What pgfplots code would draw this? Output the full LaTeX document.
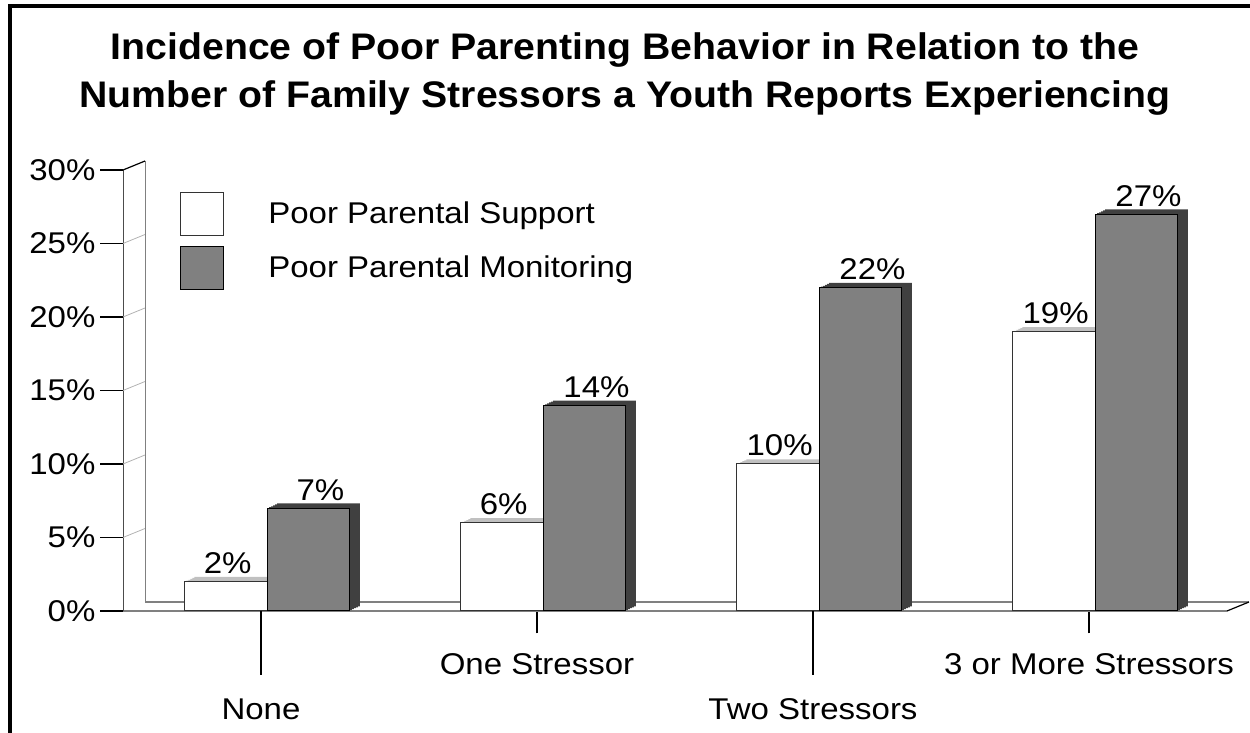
\documentclass[border=0pt]{standalone}
\usepackage{fontspec}
\setmainfont{Liberation Sans}
\newfontfamily\chartfont[FakeStretch=1.1]{Liberation Sans}
\newfontfamily\titlefont[FakeStretch=1.06]{Liberation Sans}
\usepackage{pgfplots}
\usepackage{pgfplotstable}
\pgfplotsset{compat=1.18}

\definecolor{bargray}{HTML}{808080}
\definecolor{sidegray}{HTML}{404040}
\definecolor{topwhite}{HTML}{C0C0C0}

\pgfplotstableread{
x support monitoring
0 2 7
1 6 14
2 10 22
3 19 27
}\stresstable

\newcommand{\lblfont}{\chartfont\fontsize{15}{18}\selectfont}

\begin{document}
\begin{tikzpicture}
\useasboundingbox (0,0) rectangle (625pt,366.5pt);
% frame (left and top only)
\draw[line width=1.75pt] (5pt,0) -- (5pt,363.5pt) -- (625pt,363.5pt);
% title
\node[anchor=base, font=\titlefont\fontsize{18.5}{22}\selectfont\bfseries] at (312.5pt,336.8pt)
  {Incidence of Poor Parenting Behavior in Relation to the};
\node[anchor=base, font=\titlefont\fontsize{18.5}{22}\selectfont\bfseries] at (312.5pt,312.8pt)
  {Number of Family Stressors a Youth Reports Experiencing};

\begin{axis}[
    at={(61.5pt,61pt)}, anchor=south west,
    scale only axis,
    width=552pt, height=220.5pt,
    ybar,
    bar width=0.3,
    xmin=-0.5, xmax=3.5,
    ymin=0, ymax=30,
    clip=false,
    axis lines*=left,
    axis line style={-},
    x axis line style={gray, line width=1pt},
    y axis line style={black!70, line width=0.5pt},
    tick align=outside,
    major tick length=11.25pt,
    tick style={black, line width=0.6pt},
    ytick={0,5,...,30},
    yticklabel={\pgfmathprintnumber{\tick}\%},
    yticklabel style={xshift=1pt},
    /pgf/number format/assume math mode=true,
    tick label style={font=\lblfont},
    xticklabel style={yshift=-6.7pt},
    xtick={1,3},
    xticklabels={One Stressor, 3 or More Stressors},
    extra x ticks={0,2},
    extra x tick labels={None, Two Stressors},
    extra x tick style={major tick length=32pt, xticklabel style={yshift=-1.5pt}},
    legend style={at={(0.0516,0.95)}, anchor=north west, draw=none, fill=none,
        inner sep=0pt, font=\lblfont, row sep=5pt,
        nodes={inner sep=2pt}},
    legend cell align=left,
    nodes near coords={\pgfmathprintnumber{\pgfplotspointmeta}\%},
    every node near coord/.append style={font=\lblfont, anchor=base, yshift=4pt, text=black},
]
% left wall
\pgfplotsinvokeforeach{5,10,15,20,25}{
  \draw[gray!60, line width=0.4pt] (axis cs:-0.5,#1) -- ++(11pt,4.5pt);
}
\draw[gray, line width=0.5pt] ([shift={(11pt,4.5pt)}]axis cs:-0.5,0) -- ([shift={(11pt,4.5pt)}]axis cs:-0.5,30);
\draw[black, line width=0.6pt] (axis cs:-0.5,30) -- ([shift={(11pt,4.5pt)}]axis cs:-0.5,30);
% floor
\draw[gray, line width=0.6pt] ([shift={(11pt,4.5pt)}]axis cs:-0.5,0) -- ([shift={(11pt,4.5pt)}]axis cs:3.5,0);
\draw[black, line width=0.6pt] (axis cs:3.5,0) -- ([shift={(11pt,4.5pt)}]axis cs:3.5,0);

% poor parental support: depth, then front
\pgfplotsinvokeforeach{0.2,0.4,0.6,0.8,1}{
  \addplot[forget plot, bar shift=-0.128, fill=topwhite, draw=none,
    xshift=#1*5pt, yshift=#1*2.3pt, nodes near coords={}]
    table[x=x, y=support] {\stresstable};
}
\addplot[bar shift=-0.128, fill=white, draw=black!80, line width=0.5pt,
    every node near coord/.append style={xshift=1pt},
    legend image code/.code={\draw[fill=white, draw=black!80, line width=0.5pt] (0pt,-10.75pt) rectangle (21.5pt,10.75pt);}]
    table[x=x, y=support] {\stresstable};
\addlegendentry{\hspace{20pt}Poor Parental Support}

% poor parental monitoring
\pgfplotsinvokeforeach{0.2,0.4,0.6,0.8,1}{
  \addplot[forget plot, bar shift=0.172, fill=sidegray, draw=none,
    xshift=#1*5pt, yshift=#1*2.3pt, nodes near coords={}]
    table[x=x, y=monitoring] {\stresstable};
}
\addplot[bar shift=0.172, fill=bargray, draw=black, line width=0.5pt,
    every node near coord/.append style={xshift=6pt},
    legend image code/.code={\draw[fill=bargray, draw=black, line width=0.5pt] (0pt,-10.75pt) rectangle (21.5pt,10.75pt);}]
    table[x=x, y=monitoring] {\stresstable};
\addlegendentry{\hspace{20pt}Poor Parental Monitoring}
\end{axis}
\end{tikzpicture}
\end{document}
